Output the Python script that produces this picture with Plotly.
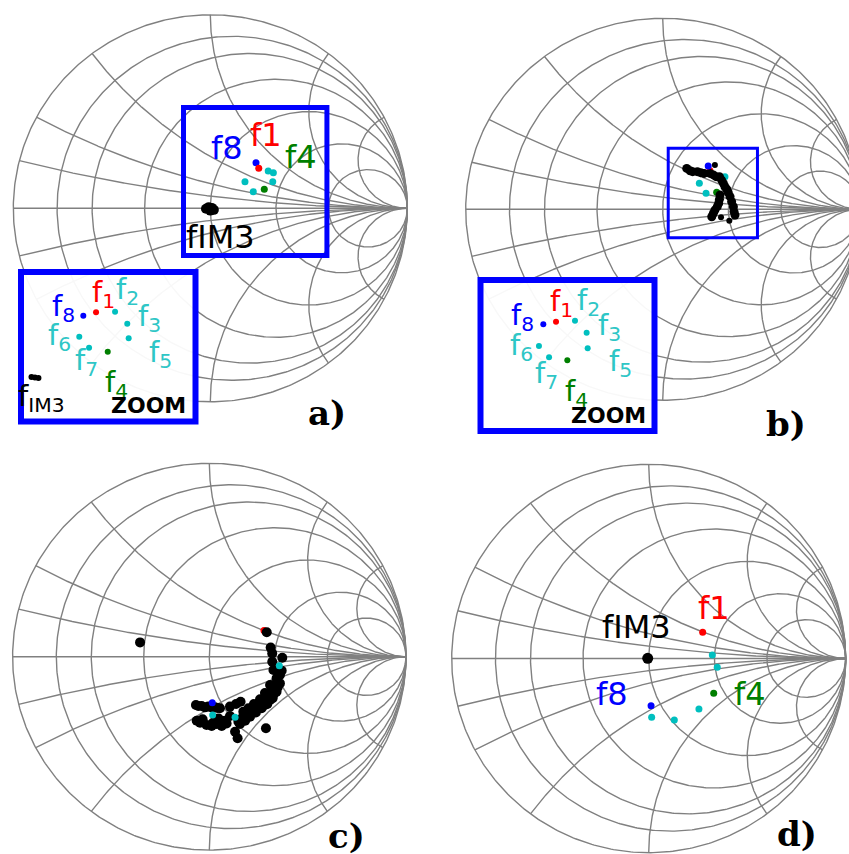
import numpy as np
import plotly.graph_objects as go

# ---------------------------------------------------------------- data
# Smith chart grid values (normalised resistance / reactance)
R_GRID = [0.125, 0.25, 0.5, 1, 2, 4]
X_GRID = [0.125, 0.25, 0.5, 1, 2, 4]

# Points are reflection coefficients (real, imag)
# ---- panel a)
A_CYAN_RE = [0.294, 0.320, 0.317, 0.176, 0.218]
A_CYAN_IM = [0.193, 0.184, 0.137, 0.137, 0.086]
A_F8 = ([0.232], [0.236])
A_F1 = ([0.246], [0.207])
A_F4 = ([0.274], [0.098])
A_IM3_RE = [-0.022, -0.008, 0.008, 0.018, 0.0]
A_IM3_IM = [-0.002, 0.006, 0.002, -0.008, -0.012]
A_LABELS = [("f8", 0.083, 0.313, "blue"), ("f1", 0.284, 0.379, "red"),
            ("f4", 0.460, 0.263, "green"), ("fIM3", 0.053, -0.147, "black")]
A_BOX = (-0.136, -0.244, 0.592, 0.521)

# ---- panel b)
B_CYAN_RE = [0.186, 0.220, 0.316]
B_CYAN_IM = [0.136, 0.084, 0.171]
B_F8 = ([0.231], [0.227])
B_F1 = ([0.240], [0.202])
B_F4 = ([0.274], [0.089])
B_BLACK_RE = [0.122, 0.139, 0.152, 0.176, 0.193, 0.210, 0.240, 0.257, 0.271,
              0.288, 0.299, 0.308, 0.316, 0.325, 0.333, 0.291, 0.288, 0.284,
              0.277, 0.265, 0.257, 0.249, 0.342, 0.350, 0.359, 0.362, 0.367]
B_BLACK_IM = [0.214, 0.202, 0.197, 0.197, 0.192, 0.188, 0.188, 0.180, 0.171,
              0.171, 0.153, 0.136, 0.118, 0.105, 0.087, 0.075, 0.052, 0.031,
              0.014, -0.004, -0.021, -0.039, 0.066, 0.040, 0.014, -0.012, -0.030]
B_BLACK_SMALL_RE = [0.265, 0.296, 0.338]
B_BLACK_SMALL_IM = [0.232, -0.042, -0.060]
B_BOX = (0.028, -0.149, 0.481, 0.319)

# ---- panel c)
C_BLACK_RE = [-0.352, 0.292, 0.312, 0.320, 0.371, 0.320, 0.326, 0.368, 0.342,
              0.334, 0.322, 0.305, 0.288, 0.266, 0.244, 0.221, 0.190, 0.165,
              0.148, 0.359, 0.348, 0.329, 0.309, 0.283,
              -0.068, -0.039, -0.005, 0.029, 0.054, 0.105, 0.136, 0.159,
              -0.064, -0.034, -0.014, 0.012, 0.037, 0.063, 0.080, 0.046, 0.105,
              0.131, 0.144, 0.288,
              0.359, 0.342, 0.322, 0.295, 0.266, 0.237, 0.207, 0.182, 0.156,
              0.309, 0.283, 0.258, 0.227, 0.199, 0.173,
              -0.047, 0.020, 0.088, -0.056, -0.022, 0.012, 0.041]
C_BLACK_IM = [0.074, 0.126, 0.047, 0.017, -0.005, -0.026, -0.069, -0.072, -0.112,
              -0.146, -0.172, -0.198, -0.220, -0.245, -0.262, -0.281, -0.301, -0.319,
              -0.336, -0.095, -0.158, -0.193, -0.224, -0.250,
              -0.250, -0.255, -0.258, -0.262, -0.267, -0.258, -0.245, -0.233,
              -0.331, -0.324, -0.353, -0.358, -0.348, -0.358, -0.331, -0.319, -0.307,
              -0.388, -0.422, -0.370,
              -0.138, -0.181, -0.215, -0.245, -0.267, -0.289, -0.310, -0.331, -0.348,
              -0.146, -0.188, -0.220, -0.245, -0.267, -0.284,
              -0.341, -0.341, -0.345, -0.255, -0.262, -0.262, -0.265]
C_RED = ([0.278], [0.135])
C_GREEN = ([0.237], [-0.255])
C_CYAN_RE = [0.356, 0.131, 0.017]
C_CYAN_IM = [-0.047, -0.313, -0.301]
C_BLUE = ([0.015], [-0.238])

# ---- panel d)
D_IM3 = ([-0.005], [0.001])
D_F1 = ([0.274], [0.135])
D_CYAN_RE = [0.323, 0.348, 0.255, 0.130, 0.015]
D_CYAN_IM = [0.018, -0.045, -0.260, -0.317, -0.303]
D_F4 = ([0.330], [-0.179])
D_F8 = ([0.012], [-0.243])
D_LABELS = [("f1", 0.330, 0.258, "red"), ("fIM3", -0.061, 0.162, "black"),
            ("f8", -0.188, -0.183, "blue"), ("f4", 0.514, -0.183, "green")]

# ---- zoom insets (normalised inset coordinates)
INSET_NAMES = ["8", "1", "2", "3", "5", "6", "7", "4"]
INSET_COLORS = ["blue", "red", "cyan", "cyan", "cyan", "cyan", "cyan", "green"]
IA_U = [0.357, 0.430, 0.539, 0.609, 0.617, 0.334, 0.390, 0.497]
IA_V = [0.708, 0.730, 0.734, 0.654, 0.557, 0.567, 0.494, 0.467]
IA_LU = [0.241, 0.470, 0.613, 0.739, 0.802, 0.223, 0.378, 0.550]
IA_LV = [0.759, 0.853, 0.873, 0.692, 0.452, 0.565, 0.398, 0.251]
IA_IM3_U = [0.060, 0.080, 0.100]
IA_IM3_V = [0.298, 0.294, 0.291]
IA_IM3_LABEL = (0.115, 0.157)
IA_ZOOM = (0.728, 0.105)
IB_U = [0.361, 0.434, 0.543, 0.610, 0.616, 0.336, 0.394, 0.499]
IB_V = [0.707, 0.724, 0.730, 0.651, 0.548, 0.563, 0.488, 0.468]
IB_LU = [0.244, 0.468, 0.618, 0.744, 0.807, 0.233, 0.382, 0.549]
IB_LV = [0.755, 0.848, 0.854, 0.689, 0.450, 0.556, 0.371, 0.252]
IB_ZOOM = (0.733, 0.100)

PANEL_TAGS = ["a)", "b)", "c)", "d)"]

# ---------------------------------------------------------------- style / layout
W, H = 849, 854
COL = {"blue": "#0000ff", "red": "#ff0000", "green": "#007f00",
       "cyan": "#00bfbf", "black": "#000000"}
TXT = {"blue": "#0000ff", "red": "#ff0000", "green": "#007f00",
       "cyan": "#2ec6c6", "black": "#000000"}
GRID_COLOR = "#808080"
FONT = "DejaVu Sans"

# panel geometry in pixels: centre and radii of the unit circle
GEOM = [(210.3, 208.3, 197.0, 193.5), (662.7, 209.3, 197.0, 191.0),
        (209.3, 656.7, 196.7, 193.4), (648.7, 658.5, 197.0, 194.2)]
INSET_BOX = [(21, 272, 195.5, 421.5), (480.5, 280, 654.5, 431)]

fig = go.Figure()
layout = {}


def ax_names(i):
    return ("x" if i == 1 else f"x{i}"), ("y" if i == 1 else f"y{i}")


def smith_grid():
    xs, ys = [], []
    t = np.linspace(0, 2 * np.pi, 500)
    xs += list(np.cos(t)) + [None]
    ys += list(np.sin(t)) + [None]
    for r in R_GRID:
        c, rad = r / (1 + r), 1 / (1 + r)
        xs += list(c + rad * np.cos(t)) + [None]
        ys += list(rad * np.sin(t)) + [None]
    rr = np.tan(np.linspace(0, np.pi / 2 * 0.9995, 500))
    for x in X_GRID:
        for s in (1, -1):
            g = (rr + 1j * s * x - 1) / (rr + 1j * s * x + 1)
            xs += list(g.real) + [1, None]
            ys += list(g.imag) + [0, None]
    xs += [-1, 1, None]
    ys += [0, 0, None]
    return xs, ys


GX, GY = smith_grid()
PAD = 0.08
for i, (cx, cy, rx, ry) in enumerate(GEOM, start=1):
    plo = max(0.0, cx - rx * (1 + PAD))
    phi = min(W, cx + rx * (1 + PAD))
    ptop = max(0.0, cy - ry * (1 + PAD))
    pbot = min(H, cy + ry * (1 + PAD))
    xn, yn = ax_names(i)
    layout["xaxis" if i == 1 else f"xaxis{i}"] = dict(
        domain=[plo / W, phi / W], range=[(plo - cx) / rx, (phi - cx) / rx],
        visible=False, anchor=yn, fixedrange=True)
    layout["yaxis" if i == 1 else f"yaxis{i}"] = dict(
        domain=[1 - pbot / H, 1 - ptop / H], range=[(cy - pbot) / ry, (cy - ptop) / ry],
        visible=False, anchor=xn, fixedrange=True)
    fig.add_trace(go.Scatter(x=GX, y=GY, mode="lines", xaxis=xn, yaxis=yn,
                             line=dict(color=GRID_COLOR, width=1.4),
                             hoverinfo="skip", showlegend=False))

IPAD = 8
for k, (x0, y0, x1, y1) in enumerate(INSET_BOX):
    i = 5 + k
    xn, yn = ax_names(i)
    wpx, hpx = x1 - x0, y1 - y0
    layout[f"xaxis{i}"] = dict(domain=[(x0 - IPAD) / W, (x1 + IPAD) / W],
                               range=[-IPAD / wpx, 1 + IPAD / wpx],
                               visible=False, anchor=yn, fixedrange=True)
    layout[f"yaxis{i}"] = dict(domain=[1 - (y1 + IPAD) / H, 1 - (y0 - IPAD) / H],
                               range=[-IPAD / hpx, 1 + IPAD / hpx],
                               visible=False, anchor=xn, fixedrange=True)
    fig.add_trace(go.Scatter(x=[0, 1, 1, 0, 0], y=[0, 0, 1, 1, 0], mode="lines",
                             fill="toself", fillcolor="rgba(255,255,255,0.94)",
                             line=dict(width=0), xaxis=xn, yaxis=yn,
                             hoverinfo="skip", showlegend=False))


def pts(i, xs, ys, color, size=7):
    xn, yn = ax_names(i)
    fig.add_trace(go.Scatter(x=xs, y=ys, mode="markers", xaxis=xn, yaxis=yn,
                             marker=dict(color=COL[color], size=size, line=dict(width=0)),
                             hoverinfo="skip", showlegend=False))


annotations = []
shapes = []


def label(i, text, x, y, color, size=32):
    xn, yn = ax_names(i)
    annotations.append(dict(x=x, y=y, xref=xn, yref=yn, text=text, showarrow=False,
                            xanchor="center", yanchor="middle",
                            font=dict(family=FONT, size=size, color=TXT[color])))


# ---- panel a
pts(1, A_CYAN_RE, A_CYAN_IM, "cyan")
pts(1, *A_F8, "blue")
pts(1, *A_F1, "red")
pts(1, *A_F4, "green")
pts(1, A_IM3_RE, A_IM3_IM, "black", 10)
for name, x, y, c in A_LABELS:
    label(1, name, x, y, c)
shapes.append(dict(type="rect", xref="x", yref="y", x0=A_BOX[0], y0=A_BOX[1],
                   x1=A_BOX[2], y1=A_BOX[3], line=dict(color="#0000ff", width=5)))

# ---- panel b
pts(2, *B_F1, "red")
pts(2, B_CYAN_RE, B_CYAN_IM, "cyan")
pts(2, *B_F4, "green")
pts(2, B_BLACK_RE, B_BLACK_IM, "black", 9)
pts(2, B_BLACK_SMALL_RE, B_BLACK_SMALL_IM, "black", 6)
pts(2, *B_F8, "blue")
shapes.append(dict(type="rect", xref="x2", yref="y2", x0=B_BOX[0], y0=B_BOX[1],
                   x1=B_BOX[2], y1=B_BOX[3], line=dict(color="#0000ff", width=3)))

# ---- panel c
pts(3, *C_RED, "red")
pts(3, *C_GREEN, "green", 5)
pts(3, C_BLACK_RE, C_BLACK_IM, "black", 10)
pts(3, C_CYAN_RE, C_CYAN_IM, "cyan")
pts(3, *C_BLUE, "blue")

# ---- panel d
pts(4, D_CYAN_RE, D_CYAN_IM, "cyan")
pts(4, *D_F1, "red")
pts(4, *D_F4, "green")
pts(4, *D_F8, "blue")
pts(4, *D_IM3, "black", 11)
for name, x, y, c in D_LABELS:
    label(4, name, x, y, c)

# ---- insets
for k, (U, V, LU, LV, ZM) in enumerate([(IA_U, IA_V, IA_LU, IA_LV, IA_ZOOM),
                                         (IB_U, IB_V, IB_LU, IB_LV, IB_ZOOM)]):
    i = 5 + k
    for color in ["cyan", "blue", "red", "green"]:
        idx = [j for j, c in enumerate(INSET_COLORS) if c == color]
        pts(i, [U[j] for j in idx], [V[j] for j in idx], color, 6)
    for j, n in enumerate(INSET_NAMES):
        label(i, f"f<sub>{n}</sub>", LU[j], LV[j], INSET_COLORS[j], 29)
    label(i, "<b>ZOOM</b>", ZM[0], ZM[1], "black", 22)
    xn, yn = ax_names(i)
    shapes.append(dict(type="rect", xref=xn, yref=yn, x0=0, y0=0, x1=1, y1=1,
                       line=dict(color="#0000ff", width=6)))
pts(5, IA_IM3_U, IA_IM3_V, "black", 6)
label(5, "f<sub>IM3</sub>", IA_IM3_LABEL[0], IA_IM3_LABEL[1], "black", 29)

# ---- panel tags
TAG_POS = [(327, 413), (786, 424), (346, 836), (797, 834)]
for tag, (px, py) in zip(PANEL_TAGS, TAG_POS):
    annotations.append(dict(x=px / W, y=1 - py / H, xref="paper", yref="paper",
                            text=f"<b>{tag}</b>", showarrow=False,
                            xanchor="center", yanchor="middle",
                            font=dict(family="DejaVu Serif", size=34, color="#000000")))

fig.update_layout(**layout)
fig.update_layout(width=W, height=H, margin=dict(l=0, r=0, t=0, b=0),
                  paper_bgcolor="white", plot_bgcolor="rgba(0,0,0,0)",
                  showlegend=False, annotations=annotations, shapes=shapes)

fig.write_html("out.html", config={"displayModeBar": False},
               post_script="document.body.style.margin='0px';")
